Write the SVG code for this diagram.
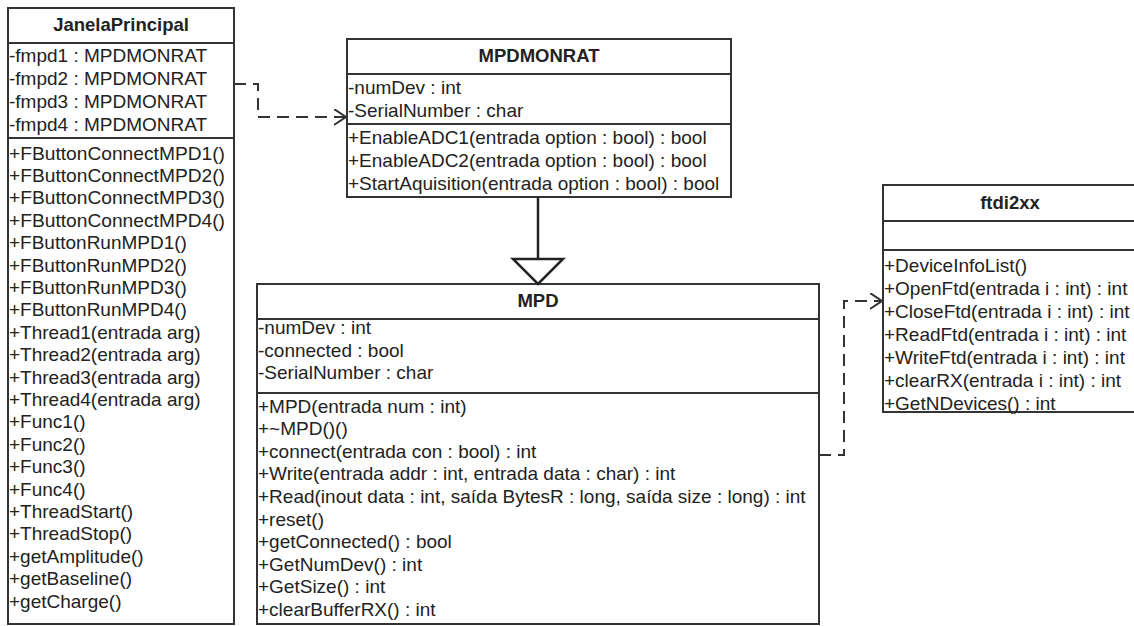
<svg xmlns="http://www.w3.org/2000/svg" width="1134" height="626" viewBox="0 0 1134 626">
<style>
.box{fill:#fff;stroke:#333;stroke-width:2}
.sep{stroke:#333;stroke-width:2}
.t{font-family:"Liberation Sans",Arial,sans-serif;font-size:19px;fill:#222}
.h{font-family:"Liberation Sans",Arial,sans-serif;font-size:18.5px;font-weight:bold;fill:#222;text-anchor:middle}
.dep{fill:none;stroke:#333;stroke-width:2;stroke-dasharray:12 7}
.gen{fill:none;stroke:#222;stroke-width:2.5}
</style>
<defs>
<marker id="open" markerUnits="userSpaceOnUse" markerWidth="14" markerHeight="18" refX="12" refY="8" orient="auto">
<path d="M0,0 L12,8 L0,16" fill="none" stroke="#333" stroke-width="2"/>
</marker>
</defs>
<rect width="1134" height="626" fill="#fff"/>

<g id="JanelaPrincipal">
<rect class="box" x="8" y="8" width="226" height="616"/>
<line class="sep" x1="8" y1="43" x2="234" y2="43"/>
<line class="sep" x1="8" y1="138" x2="234" y2="138"/>
<text class="h" x="121" y="31">JanelaPrincipal</text>
<text class="t" x="9" y="61.5">-fmpd1 : MPDMONRAT</text>
<text class="t" x="9" y="84.5">-fmpd2 : MPDMONRAT</text>
<text class="t" x="9" y="107.5">-fmpd3 : MPDMONRAT</text>
<text class="t" x="9" y="130.5">-fmpd4 : MPDMONRAT</text>
<text class="t" x="9" y="159.5" textLength="216" lengthAdjust="spacingAndGlyphs">+FButtonConnectMPD1()</text>
<text class="t" x="9" y="181.9" textLength="216" lengthAdjust="spacingAndGlyphs">+FButtonConnectMPD2()</text>
<text class="t" x="9" y="204.3" textLength="216" lengthAdjust="spacingAndGlyphs">+FButtonConnectMPD3()</text>
<text class="t" x="9" y="226.7" textLength="216" lengthAdjust="spacingAndGlyphs">+FButtonConnectMPD4()</text>
<text class="t" x="9" y="249.1">+FButtonRunMPD1()</text>
<text class="t" x="9" y="271.5">+FButtonRunMPD2()</text>
<text class="t" x="9" y="293.9">+FButtonRunMPD3()</text>
<text class="t" x="9" y="316.3">+FButtonRunMPD4()</text>
<text class="t" x="9" y="338.7">+Thread1(entrada arg)</text>
<text class="t" x="9" y="361.1">+Thread2(entrada arg)</text>
<text class="t" x="9" y="383.5">+Thread3(entrada arg)</text>
<text class="t" x="9" y="405.9">+Thread4(entrada arg)</text>
<text class="t" x="9" y="428.3">+Func1()</text>
<text class="t" x="9" y="450.7">+Func2()</text>
<text class="t" x="9" y="473.1">+Func3()</text>
<text class="t" x="9" y="495.5">+Func4()</text>
<text class="t" x="9" y="517.9">+ThreadStart()</text>
<text class="t" x="9" y="540.3">+ThreadStop()</text>
<text class="t" x="9" y="562.7">+getAmplitude()</text>
<text class="t" x="9" y="585.1">+getBaseline()</text>
<text class="t" x="9" y="607.5">+getCharge()</text>
</g>

<g id="MPDMONRAT">
<rect class="box" x="347" y="39" width="384" height="158"/>
<line class="sep" x1="347" y1="74" x2="731" y2="74"/>
<line class="sep" x1="347" y1="124" x2="731" y2="124"/>
<text class="h" x="539" y="62">MPDMONRAT</text>
<text class="t" x="348" y="93.5">-numDev : int</text>
<text class="t" x="348" y="116.5">-SerialNumber : char</text>
<text class="t" x="348" y="143.5">+EnableADC1(entrada option : bool) : bool</text>
<text class="t" x="348" y="166.5">+EnableADC2(entrada option : bool) : bool</text>
<text class="t" x="348" y="189.5">+StartAquisition(entrada option : bool) : bool</text>
</g>

<g id="MPD">
<rect class="box" x="257" y="284" width="562" height="340"/>
<line class="sep" x1="257" y1="319" x2="819" y2="319"/>
<line class="sep" x1="257" y1="393" x2="819" y2="393"/>
<text class="h" x="538" y="307">MPD</text>
<text class="t" x="258" y="333.5">-numDev : int</text>
<text class="t" x="258" y="356.5">-connected : bool</text>
<text class="t" x="258" y="378.5">-SerialNumber : char</text>
<text class="t" x="258" y="412.5">+MPD(entrada num : int)</text>
<text class="t" x="258" y="435.1">+~MPD()()</text>
<text class="t" x="258" y="457.7">+connect(entrada con : bool) : int</text>
<text class="t" x="258" y="480.3">+Write(entrada addr : int, entrada data : char) : int</text>
<text class="t" x="258" y="502.9">+Read(inout data : int, saída BytesR : long, saída size : long) : int</text>
<text class="t" x="258" y="525.5">+reset()</text>
<text class="t" x="258" y="548.1">+getConnected() : bool</text>
<text class="t" x="258" y="570.7">+GetNumDev() : int</text>
<text class="t" x="258" y="593.3">+GetSize() : int</text>
<text class="t" x="258" y="615.9">+clearBufferRX() : int</text>
</g>

<g id="ftdi2xx">
<rect class="box" x="883" y="185" width="260" height="227"/>
<line class="sep" x1="883" y1="221" x2="1143" y2="221"/>
<line class="sep" x1="883" y1="250" x2="1143" y2="250"/>
<text class="h" x="1010" y="209">ftdi2xx</text>
<text class="t" x="884" y="271.5">+DeviceInfoList()</text>
<text class="t" x="884" y="294.5">+OpenFtd(entrada i : int) : int</text>
<text class="t" x="884" y="317.5">+CloseFtd(entrada i : int) : int</text>
<text class="t" x="884" y="340.5">+ReadFtd(entrada i : int) : int</text>
<text class="t" x="884" y="363.5">+WriteFtd(entrada i : int) : int</text>
<text class="t" x="884" y="386.5">+clearRX(entrada i : int) : int</text>
<text class="t" x="884" y="409.5">+GetNDevices() : int</text>
</g>

<g id="connectors">
<path class="dep" d="M234,84 H258 V117 H346" marker-end="url(#open)"/>
<line class="gen" x1="538" y1="197" x2="538" y2="259"/>
<polygon points="513,259 563,259 538,284" fill="#fff" stroke="#222" stroke-width="2.5" stroke-linejoin="miter"/>
<path class="dep" d="M819,455 H844 V301 H882" marker-end="url(#open)"/>
</g>
</svg>
